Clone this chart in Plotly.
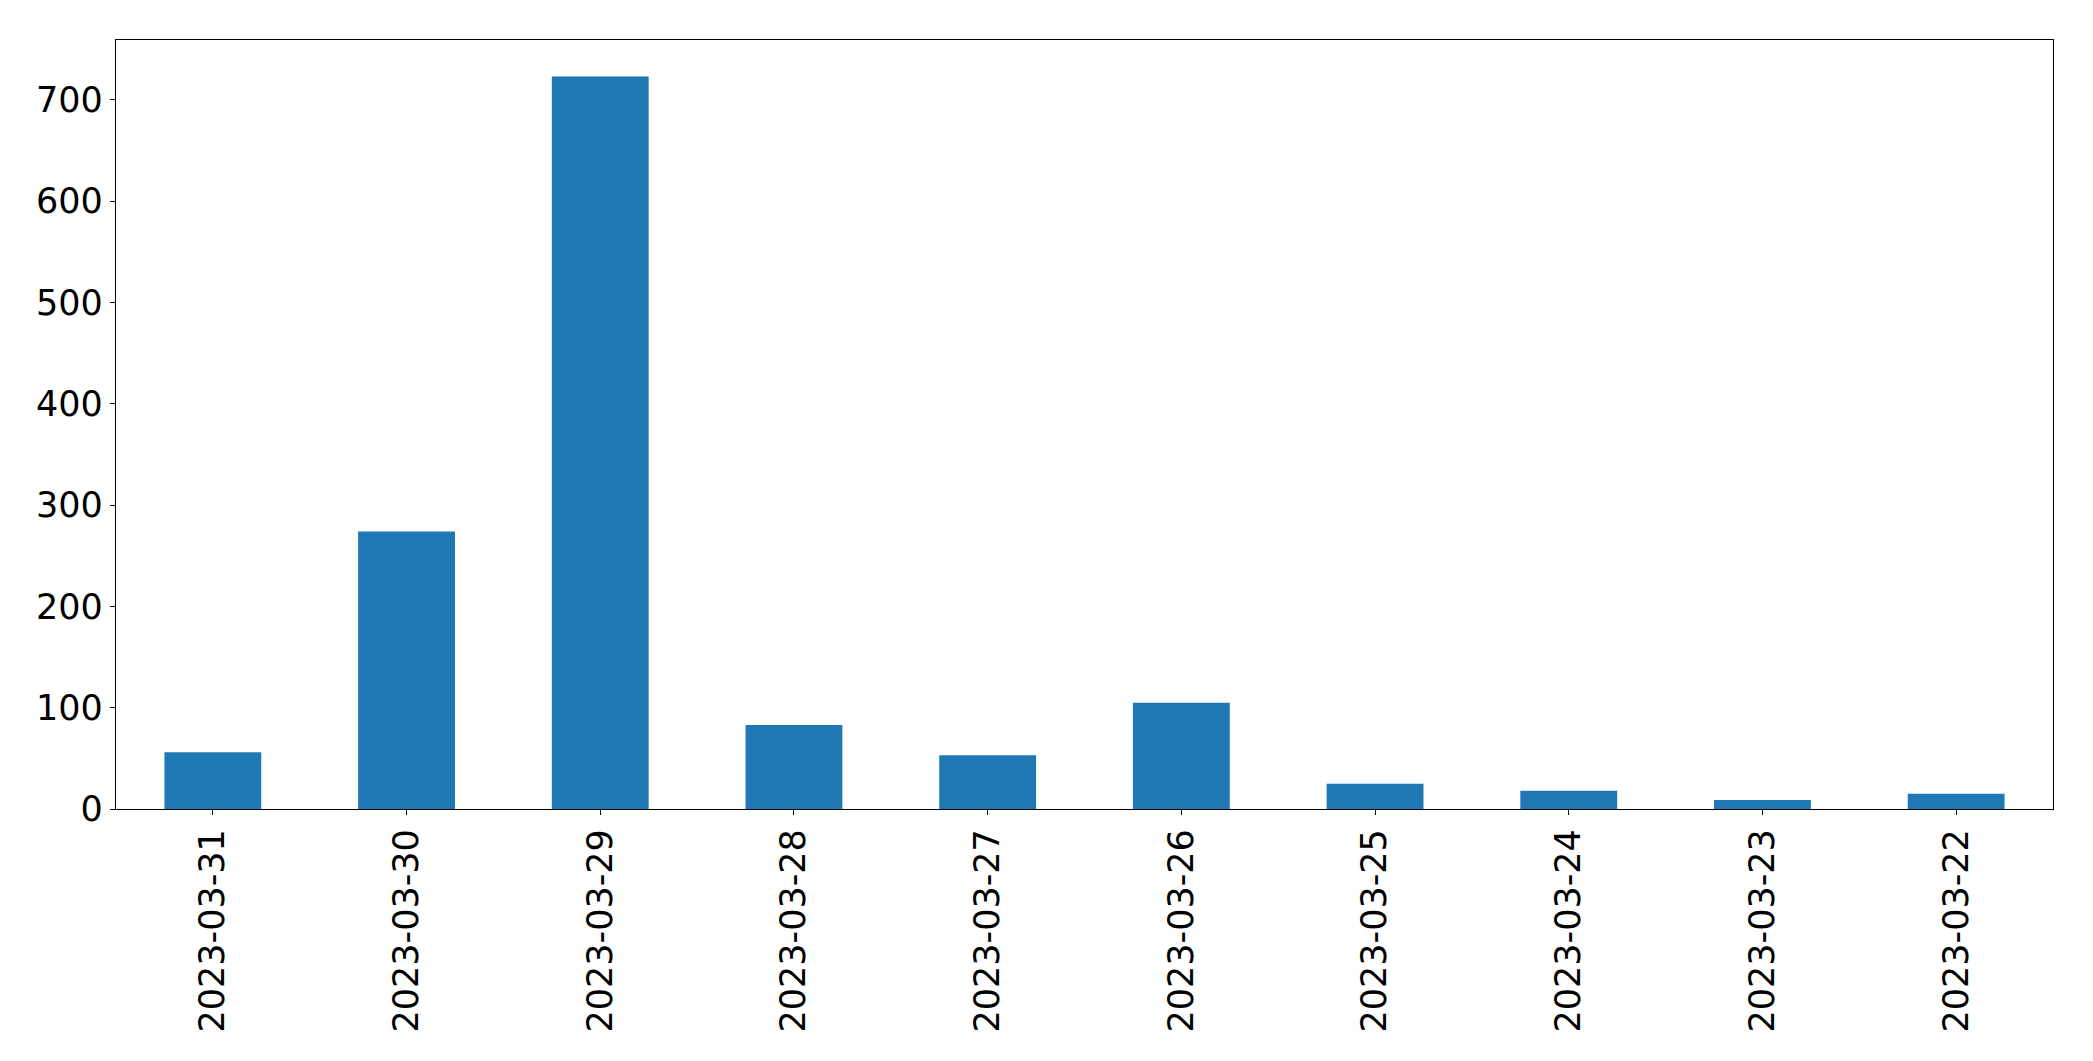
import plotly.graph_objects as go

dates = ["2023-03-31", "2023-03-30", "2023-03-29", "2023-03-28", "2023-03-27",
         "2023-03-26", "2023-03-25", "2023-03-24", "2023-03-23", "2023-03-22"]
counts = [56, 274, 723, 83, 53, 105, 25, 18, 9, 15]
y_ticks = [0, 100, 200, 300, 400, 500, 600, 700]

fig = go.Figure(go.Bar(x=dates, y=counts, marker=dict(color="#1f77b4", line=dict(width=0)), width=0.5))

font = dict(family="DejaVu Sans", size=35, color="black")
fig.update_layout(
    width=2093, height=1061,
    margin=dict(l=108, r=48, t=32, b=260),
    paper_bgcolor="white", plot_bgcolor="white",
    showlegend=False,
    font=font,
)
fig.update_xaxes(
    type="category", range=[-0.5, len(dates) - 0.5],
    tickangle=-90, showline=True, linecolor="black", linewidth=1.3, mirror=True,
    ticks="outside", ticklen=5, tickcolor="black", tickwidth=1.3,
    showgrid=False, tickfont=font,
)
fig.update_yaxes(
    range=[0, max(counts) * 1.05], tickvals=y_ticks,
    showline=True, linecolor="black", linewidth=1.3, mirror=True,
    ticks="outside", ticklen=5, tickcolor="black", tickwidth=1.3,
    showgrid=False, zeroline=False, tickfont=font,
)
fig.write_html("out.html")
